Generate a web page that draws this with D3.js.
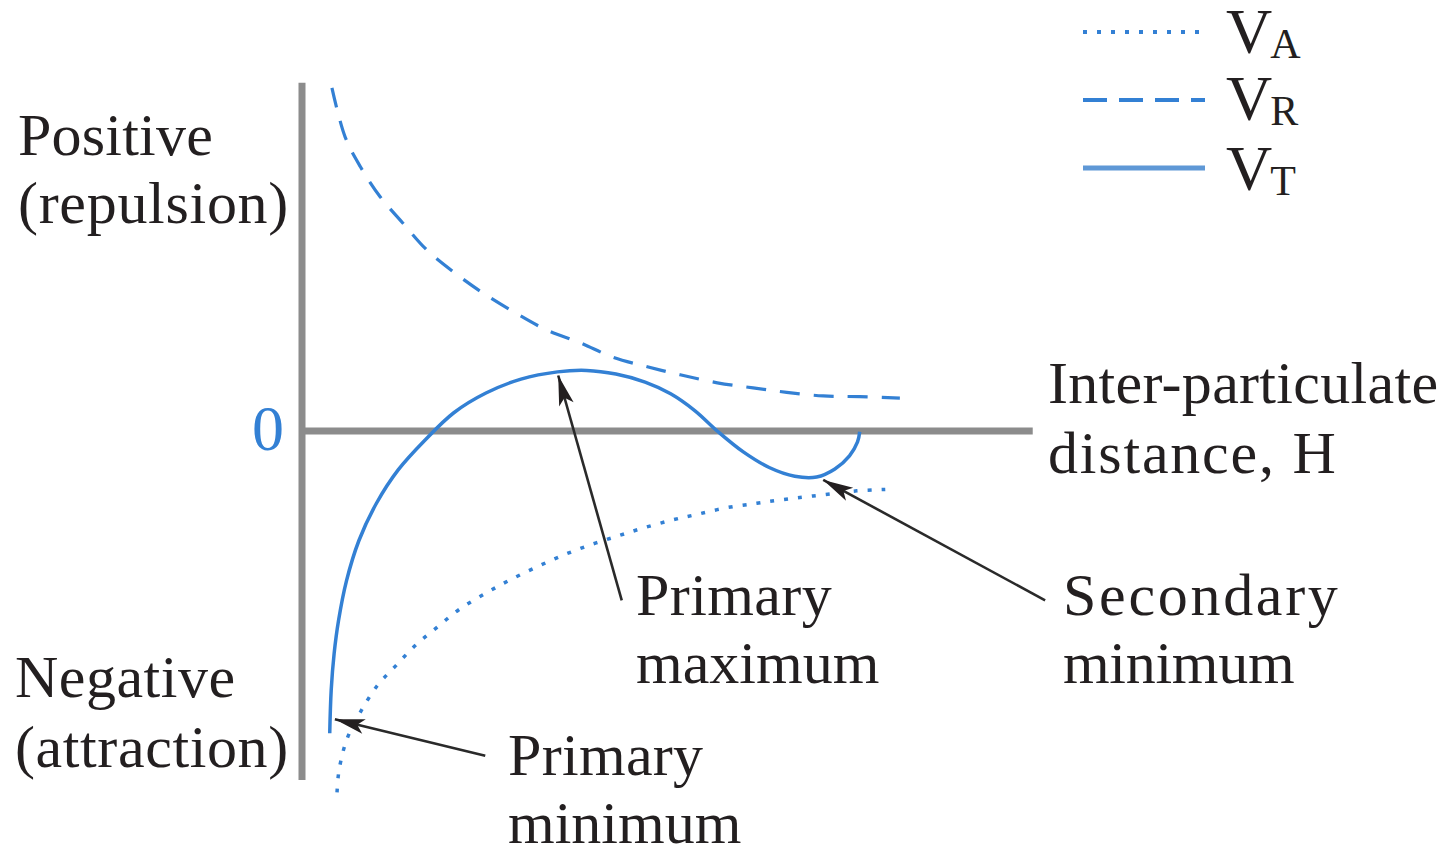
<!DOCTYPE html>
<html>
<head>
<meta charset="utf-8">
<script src="https://cdn.jsdelivr.net/npm/d3@7/dist/d3.min.js"></script>
<style>
  html, body { margin: 0; padding: 0; background: #fff; }
  svg { display: block; }
  text { font-family: "Liberation Serif", "Times New Roman", serif; fill: #231f20; }
</style>
</head>
<body>
<svg id="chart" width="1452" height="851"></svg>
<script>
// ---- Data (arbitrary units: x = inter-particle distance, y = potential energy) ----
const vrX = [4.1, 5.9, 8.0, 10.7, 13.8, 17.1, 21.0, 24.8, 29.2, 33.6, 38.1, 42.6, 47.3, 51.8, 56.9, 61.8, 66.4, 71.4, 76.4, 81.9];
const vrY = [47.0, 40.3, 36.2, 32.1, 28.5, 24.8, 21.6, 18.9, 16.2, 13.8, 12.1, 10.1, 8.8, 7.7, 6.6, 5.9, 5.3, 4.8, 4.7, 4.5];

const vaX = [4.8, 5.0, 5.6, 6.4, 8.0, 10.3, 12.9, 15.6, 18.6, 21.6, 25.2, 28.5, 32.2, 35.8, 39.5, 43.2, 46.7, 50.7, 54.2, 58.2, 62.3, 65.8, 70.0, 76.0, 79.9];
const vaY = [-49.5, -47.0, -44.0, -41.6, -38.5, -34.9, -32.1, -29.3, -26.8, -24.4, -22.2, -20.4, -18.6, -17.0, -15.6, -14.4, -13.3, -12.2, -11.4, -10.5, -9.9, -9.4, -8.9, -8.2, -8.0];

const vtX = [3.8, 4.0, 4.4, 5.0, 6.1, 7.8, 10.2, 13.2, 16.8, 20.8, 25.2, 30.0, 35.0, 39.0, 43.0, 47.0, 50.5, 53.8, 57.0, 60.5, 64.0, 67.5, 70.5, 73.0, 75.0, 76.1, 76.4];
const vtY = [-41.4, -35.5, -30.5, -26.0, -20.5, -15.0, -9.9, -5.3, -1.3, 2.5, 5.2, 7.1, 8.1, 8.3, 7.8, 6.7, 5.1, 2.8, -0.1, -2.9, -5.0, -6.2, -6.3, -5.2, -3.4, -1.5, -0.1];

const legendKeys = ["A", "R", "T"];
const yLabels = [["Positive", "(repulsion)"], ["Negative", "(attraction)"]];
const xLabel = ["Inter-particulate", "distance, H"];
const zeroLabel = "0";

// annotations: label lines, arrow start (data), arrow tip (data)
const annLabels = [["Primary", "maximum"], ["Secondary", "minimum"], ["Primary", "minimum"]];
const annFrom = [[43.8, -23.2], [101.8, -23.2], [25.1, -44.5]];
const annTip = [[35.1, 7.6], [71.4, -6.7], [4.5, -39.5]];

// ---- Layout ----
const svg = d3.select("#chart");
const x = d3.scaleLinear().domain([0, 100]).range([302, 1032]);
const y = d3.scaleLinear().domain([-50, 50]).range([796, 66]);
const blue = "#3380d4";
const axisGrey = "#8c8c8c";

// axes
svg.append("line")
  .attr("x1", x(0)).attr("x2", x(0))
  .attr("y1", y(47.7)).attr("y2", y(-47.8))
  .attr("stroke", axisGrey).attr("stroke-width", 7);
svg.append("line")
  .attr("x1", x(0)).attr("x2", x(100.1))
  .attr("y1", y(0)).attr("y2", y(0))
  .attr("stroke", axisGrey).attr("stroke-width", 7);

const line = d3.line()
  .x(d => x(d[0])).y(d => y(d[1]))
  .curve(d3.curveCatmullRom.alpha(0.5));

const zip = (a, b) => a.map((v, i) => [v, b[i]]);

// V_R dashed
svg.append("path").datum(zip(vrX, vrY))
  .attr("d", line).attr("fill", "none")
  .attr("stroke", blue).attr("stroke-width", 3.2)
  .attr("stroke-dasharray", "20 14");
// V_A dotted
svg.append("path").datum(zip(vaX, vaY))
  .attr("d", line).attr("fill", "none")
  .attr("stroke", blue).attr("stroke-width", 3.5)
  .attr("stroke-dasharray", "4 10");
// V_T solid
svg.append("path").datum(zip(vtX, vtY))
  .attr("d", line).attr("fill", "none")
  .attr("stroke", blue).attr("stroke-width", 3.5);

// arrow marker
const defs = svg.append("defs");
defs.append("marker")
  .attr("id", "arr")
  .attr("markerUnits", "userSpaceOnUse")
  .attr("viewBox", "-32 -9 34 18")
  .attr("refX", 0).attr("refY", 0)
  .attr("markerWidth", 34).attr("markerHeight", 18)
  .attr("orient", "auto")
  .append("path")
  .attr("d", "M0,0 L-30,-7.5 L-23,0 L-30,7.5 Z")
  .attr("fill", "#231f20");

annFrom.forEach((f, i) => {
  svg.append("line")
    .attr("x1", x(f[0])).attr("y1", y(f[1]))
    .attr("x2", x(annTip[i][0])).attr("y2", y(annTip[i][1]))
    .attr("stroke", "#2a2a2a").attr("stroke-width", 2.6)
    .attr("marker-end", "url(#arr)");
});

// ---- Text ----
function label(lines, px, py, lh, spacing, size) {
  const t = svg.append("text")
    .attr("font-size", size || 60);
  lines.forEach((s, i) => {
    t.append("tspan").attr("x", px).attr("y", py + i * lh)
      .attr("letter-spacing", spacing[i]).text(s);
  });
}

label(yLabels[0], 18, 155, 68, [0.2, 0.7]);
label(yLabels[1], 15, 697, 70, [0.5, 0.6]);
label(xLabel, 1048, 403, 70, [0.3, 1.8]);
label(annLabels[0], 636, 615, 68, [0.4, 0]);
label(annLabels[1], 1063, 615, 68, [2.7, -0.3]);
label(annLabels[2], 508, 775, 68, [0.3, 0]);

svg.append("text")
  .attr("x", 268).attr("y", 450)
  .attr("text-anchor", "middle")
  .attr("font-size", 64)
  .style("fill", blue)
  .text(zeroLabel);

// ---- Legend ----
const legY = [32, 100, 168];
const legBase = [53, 120, 190];
const legStyles = [
  {dash: "4 10", w: 4, c: blue},
  {dash: "24 12", w: 4, c: blue},
  {dash: null, w: 5, c: "#5f98d6"}
];
legendKeys.forEach((k, i) => {
  const l = svg.append("line")
    .attr("x1", 1083).attr("x2", 1205)
    .attr("y1", legY[i]).attr("y2", legY[i])
    .attr("stroke", legStyles[i].c)
    .attr("stroke-width", legStyles[i].w);
  if (legStyles[i].dash) l.attr("stroke-dasharray", legStyles[i].dash);
  const t = svg.append("text").attr("x", 1226).attr("y", legBase[i]).attr("font-size", 64);
  t.append("tspan").text("V");
  t.append("tspan").attr("font-size", 42).attr("dy", 5).attr("dx", -2).text(k);
});
</script>
</body>
</html>
